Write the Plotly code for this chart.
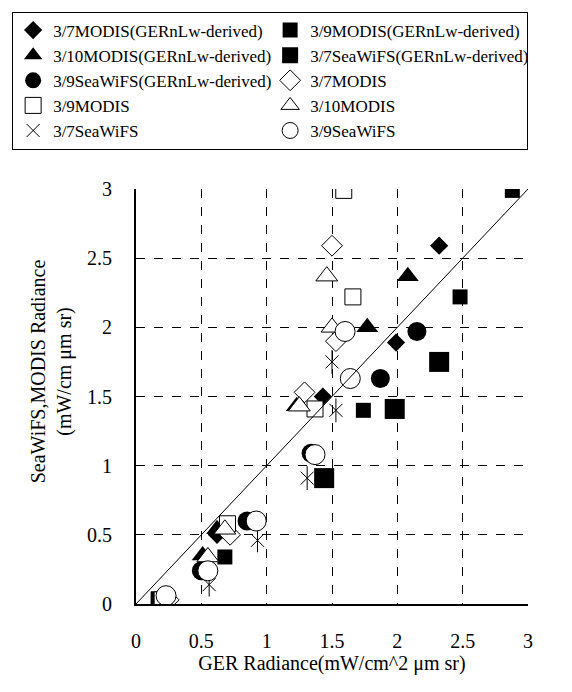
import plotly.graph_objects as go

# ---- data ----
names = [
    "3/7MODIS(GERnLw-derived)", "3/9MODIS(GERnLw-derived)",
    "3/10MODIS(GERnLw-derived)", "3/7SeaWiFS(GERnLw-derived)",
    "3/9SeaWiFS(GERnLw-derived)", "3/7MODIS",
    "3/9MODIS", "3/10MODIS",
    "3/7SeaWiFS", "3/9SeaWiFS",
]

modis37_der_x = [2.32, 1.99, 1.43, 0.62, 0.20]
modis37_der_y = [2.59, 1.89, 1.50, 0.50, 0.02]
modis39_der_x = [2.88, 2.48, 1.74, 0.68, 0.17]
modis39_der_y = [2.99, 2.22, 1.40, 0.34, 0.03]
modis310_der_x = [2.08, 1.77, 1.23, 0.62, 0.51]
modis310_der_y = [2.37, 2.00, 1.43, 0.54, 0.35]
sea37_der_x = [2.32, 1.98, 1.44, 0.19]
sea37_der_y = [1.75, 1.41, 0.91, 0.02]
sea39_der_x = [2.15, 1.87, 1.34, 0.85, 0.50, 0.20]
sea39_der_y = [1.97, 1.63, 1.09, 0.60, 0.24, 0.03]

modis37_x = [1.50, 1.53, 1.29, 0.72, 0.25]
modis37_y = [2.59, 1.90, 1.53, 0.50, 0.03]
modis39_x = [1.59, 1.66, 1.37, 0.70, 0.20]
modis39_y = [2.99, 2.22, 1.41, 0.58, 0.03]
modis310_x = [1.46, 1.50, 1.25, 0.68, 0.55]
modis310_y = [2.37, 2.00, 1.43, 0.54, 0.34]
sea37_x = [1.50, 1.53, 1.31, 0.93, 0.56, 0.25]
sea37_y = [1.75, 1.40, 0.91, 0.46, 0.14, 0.00]
sea39_x = [1.60, 1.64, 1.37, 0.92, 0.55, 0.23]
sea39_y = [1.97, 1.63, 1.08, 0.60, 0.24, 0.06]

line_x = [0, 3]
line_y = [0, 3]

tick_vals = [0, 0.5, 1, 1.5, 2, 2.5, 3]
tick_text = ["0", "0.5", "1", "1.5", "2", "2.5", "3"]

FONT = "Liberation Serif"

fig = go.Figure()

def filled(x, y, name, symbol, size):
    fig.add_trace(go.Scatter(
        x=x, y=y, mode="markers", name=name,
        marker=dict(symbol=symbol, size=size, color="black", line=dict(width=0)),
    ))

def opened(x, y, name, symbol, size):
    fig.add_trace(go.Scatter(
        x=x, y=y, mode="markers", name=name,
        marker=dict(symbol=symbol, size=size, color="white",
                    line=dict(width=1, color="black")),
    ))

filled(modis37_der_x, modis37_der_y, names[0], "diamond", 14)
filled(modis39_der_x, modis39_der_y, names[1], "square", 15)
filled(modis310_der_x, modis310_der_y, names[2], "triangle-up", 19)
filled(sea37_der_x, sea37_der_y, names[3], "square", 20)
filled(sea39_der_x, sea39_der_y, names[4], "circle", 19)
opened(modis37_x, modis37_y, names[5], "diamond", 16)
opened(modis39_x, modis39_y, names[6], "square", 16)
opened(modis310_x, modis310_y, names[7], "triangle-up", 19)
# asterisk: X plus vertical stroke
fig.add_trace(go.Scatter(
    x=sea37_x, y=sea37_y, mode="markers", name=names[8], legendgroup="s37",
    marker=dict(symbol="x-thin-open", size=13, color="black",
                line=dict(width=1, color="black")),
))
fig.add_trace(go.Scatter(
    x=sea37_x, y=sea37_y, mode="markers", name=names[8], legendgroup="s37",
    showlegend=False,
    marker=dict(symbol="line-ns-open", size=17, color="black",
                line=dict(width=1, color="black")),
))
opened(sea39_x, sea39_y, names[9], "circle", 20)

fig.add_trace(go.Scatter(
    x=line_x, y=line_y, mode="lines", showlegend=False,
    line=dict(color="black", width=1),
))

axis_common = dict(
    range=[0, 3], tickvals=tick_vals, ticktext=tick_text,
    showgrid=True, gridcolor="black", griddash="dash", gridwidth=1,
    zeroline=False, showline=True, linecolor="black", linewidth=2,
    ticks="", tickfont=dict(family=FONT, size=20, color="black"),
    fixedrange=True,
)

pad = "&nbsp;" * 10

fig.update_layout(
    width=572, height=692,
    margin=dict(l=129, r=44, t=183, b=88),
    paper_bgcolor="white", plot_bgcolor="white",
    font=dict(family=FONT, color="black"),
    xaxis=dict(**axis_common, ticklabelstandoff=18,
               title=dict(text="GER Radiance(mW/cm^2 μm sr)",
                          font=dict(family=FONT, size=20, color="black"),
                          standoff=4)),
    yaxis=dict(**axis_common, ticklabelstandoff=18,
               title=dict(text=pad + "SeaWiFS,MODIS Radiance<br>" + pad + "(mW/cm μm sr)",
                          font=dict(family=FONT, size=20, color="black"),
                          standoff=10)),
    showlegend=True,
    legend=dict(
        orientation="h", x=-0.316, y=1.4276, xanchor="left", yanchor="top",
        bordercolor="black", borderwidth=1, bgcolor="white",
        font=dict(family=FONT, size=17, color="black"),
        entrywidth=212, entrywidthmode="pixels", itemwidth=30,
        traceorder="normal",
    ),
)

fig.write_html("out.html")
